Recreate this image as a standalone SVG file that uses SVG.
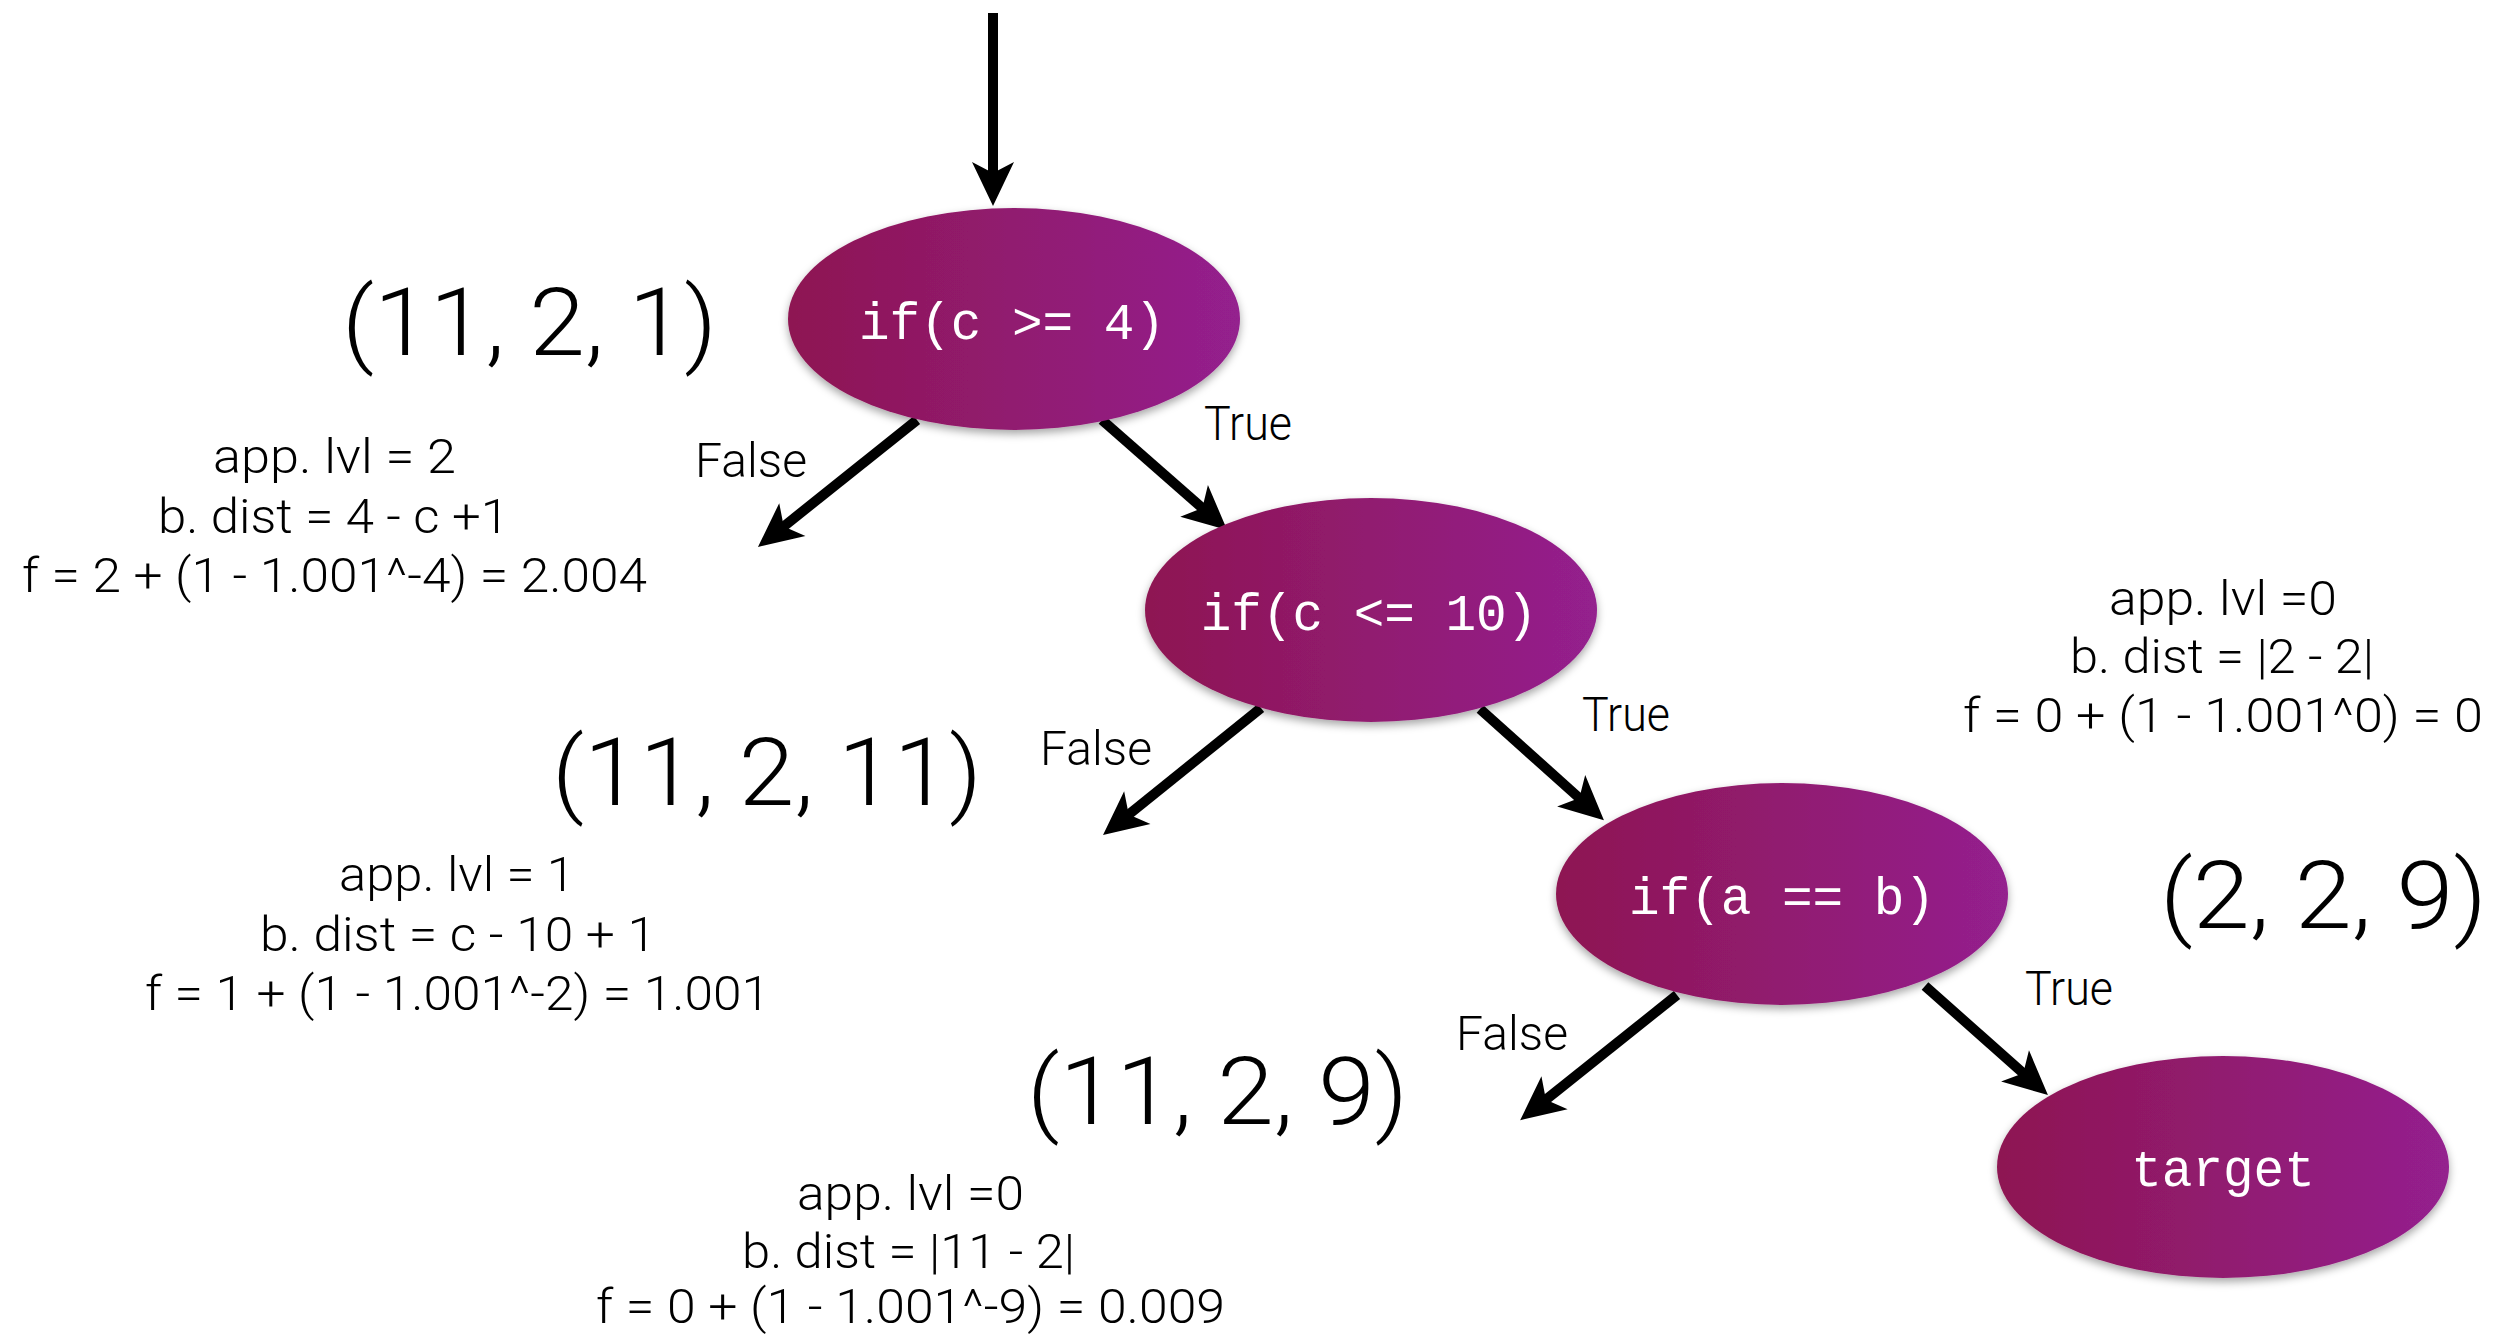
<svg xmlns="http://www.w3.org/2000/svg" width="2520" height="1334" viewBox="0 0 2520 1334">
<defs>
<linearGradient id="nodeGrad" x1="0" y1="0" x2="1" y2="0">
<stop offset="0" stop-color="#8E1652"/>
<stop offset="1" stop-color="#94208E"/>
</linearGradient>
<filter id="shadow" x="-10%" y="-10%" width="120%" height="130%">
<feDropShadow dx="0" dy="4" stdDeviation="4" flood-color="#000" flood-opacity="0.35"/>
</filter>
<marker id="arrow" markerUnits="userSpaceOnUse" viewBox="-76 -24 80 48" refX="-30" refY="0" markerWidth="80" markerHeight="48" orient="auto">
<path d="M0,0 L-44,-21 L-33,0 L-44,21 Z" fill="#000"/>
</marker>
</defs>
<style>
.edge{stroke:#000;stroke-width:10;fill:none;marker-end:url(#arrow)}
.node ellipse{fill:url(#nodeGrad);filter:url(#shadow)}
.node text{font-family:"Liberation Mono","Courier New",monospace;font-size:51px;fill:#fff;text-anchor:middle}
.lbl{font-family:Roboto,"Liberation Sans",sans-serif;font-weight:300;font-size:48px;fill:#000}
.tup{font-family:Roboto,"Liberation Sans",sans-serif;font-weight:300;font-size:94px;fill:#000}
.info{font-family:Roboto,"Liberation Sans",sans-serif;font-weight:300;font-size:48px;fill:#000}
</style>
<rect width="2520" height="1334" fill="#fff"/>
<g id="connectors">
<line class="edge" x1="993" y1="13" x2="993" y2="176"/>
<line class="edge" x1="917" y1="420" x2="781.4" y2="528.3"/>
<line class="edge" x1="1102" y1="420" x2="1204.6" y2="510.1"/>
<line class="edge" x1="1261" y1="708" x2="1126.4" y2="816.3"/>
<line class="edge" x1="1480" y1="709" x2="1581.6" y2="800.1"/>
<line class="edge" x1="1677" y1="995" x2="1543.6" y2="1101.5"/>
<line class="edge" x1="1925" y1="986" x2="2025.5" y2="1075.2"/>
<text class="lbl" x="695" y="477" textLength="112" lengthAdjust="spacingAndGlyphs">False</text>
<text class="lbl" x="1204" y="440" textLength="88" lengthAdjust="spacingAndGlyphs">True</text>
<text class="lbl" x="1040" y="765" textLength="112" lengthAdjust="spacingAndGlyphs">False</text>
<text class="lbl" x="1582" y="731" textLength="88" lengthAdjust="spacingAndGlyphs">True</text>
<text class="lbl" x="1456" y="1050" textLength="112" lengthAdjust="spacingAndGlyphs">False</text>
<text class="lbl" x="2025" y="1005" textLength="88" lengthAdjust="spacingAndGlyphs">True</text>
</g>
<g id="node1" class="node">
<ellipse cx="1014" cy="319" rx="226" ry="111"/>
<text x="1012" y="339">if(c &gt;= 4)</text>
</g>
<g id="node2" class="node">
<ellipse cx="1371" cy="610" rx="226" ry="112"/>
<text x="1369" y="630">if(c &lt;= 10)</text>
</g>
<g id="node3" class="node">
<ellipse cx="1782" cy="894" rx="226" ry="111"/>
<text x="1782" y="914">if(a == b)</text>
</g>
<g id="node4" class="node">
<ellipse cx="2223" cy="1167" rx="226" ry="111"/>
<text x="2223" y="1186">target</text>
</g>
<g id="annotations">
<text class="tup" x="342" y="355" textLength="375" lengthAdjust="spacingAndGlyphs">(11, 2, 1)</text>
<text class="tup" x="552" y="805" textLength="430" lengthAdjust="spacingAndGlyphs">(11, 2, 11)</text>
<text class="tup" x="1027" y="1124" textLength="381" lengthAdjust="spacingAndGlyphs">(11, 2, 9)</text>
<text class="tup" x="2160" y="928" textLength="327" lengthAdjust="spacingAndGlyphs">(2, 2, 9)</text>
<text class="info" x="213" y="473" textLength="243" lengthAdjust="spacingAndGlyphs">app. lvl = 2</text>
<text class="info" x="158" y="533" textLength="351" lengthAdjust="spacingAndGlyphs">b. dist = 4 - c +1</text>
<text class="info" x="22" y="592" textLength="625" lengthAdjust="spacingAndGlyphs">f = 2 + (1 - 1.001^-4) = 2.004</text>
<text class="info" x="339" y="891" textLength="236" lengthAdjust="spacingAndGlyphs">app. lvl = 1</text>
<text class="info" x="260" y="951" textLength="396" lengthAdjust="spacingAndGlyphs">b. dist = c - 10 + 1</text>
<text class="info" x="145" y="1010" textLength="625" lengthAdjust="spacingAndGlyphs">f = 1 + (1 - 1.001^-2) = 1.001</text>
<text class="info" x="2109" y="615" textLength="228" lengthAdjust="spacingAndGlyphs">app. lvl =0</text>
<text class="info" x="2070" y="673" textLength="304" lengthAdjust="spacingAndGlyphs">b. dist = |2 - 2|</text>
<text class="info" x="1963" y="732" textLength="520" lengthAdjust="spacingAndGlyphs">f = 0 + (1 - 1.001^0) = 0</text>
<text class="info" x="797" y="1210" textLength="227" lengthAdjust="spacingAndGlyphs">app. lvl =0</text>
<text class="info" x="742" y="1268" textLength="333" lengthAdjust="spacingAndGlyphs">b. dist = |11 - 2|</text>
<text class="info" x="596" y="1323" textLength="629" lengthAdjust="spacingAndGlyphs">f = 0 + (1 - 1.001^-9) = 0.009</text>
</g>
</svg>
